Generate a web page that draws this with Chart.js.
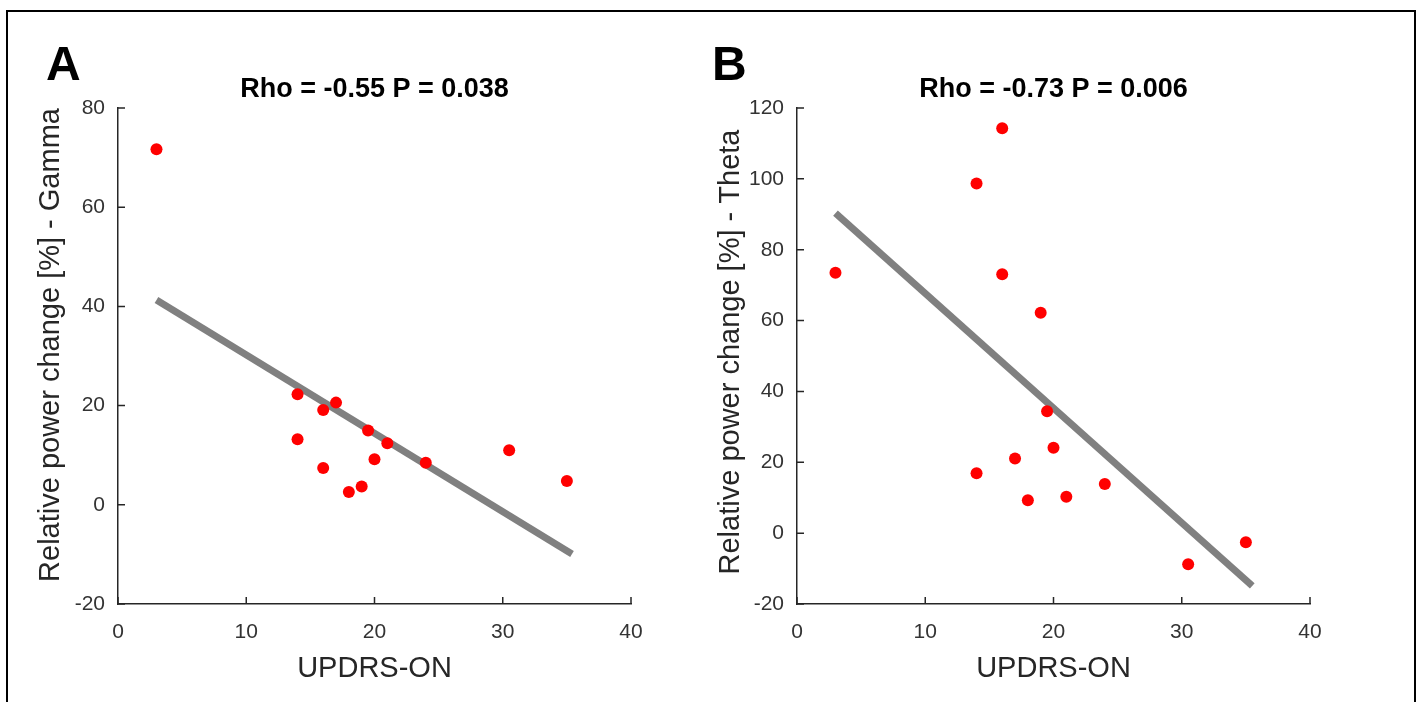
<!DOCTYPE html>
<html>
<head>
<meta charset="utf-8">
<script src="https://cdn.jsdelivr.net/npm/chart.js@4.4.1/dist/chart.umd.min.js"></script>
<style>
  html, body { margin: 0; padding: 0; background: #fff; }
  body { width: 1418px; height: 702px; position: relative; overflow: hidden; }
  #frame { position: absolute; left: 6px; top: 10px; width: 1410px; height: 730px; border: 2px solid #000; box-sizing: border-box; }
  .panel { position: absolute; top: 0; height: 702px; }
  #panelA { left: 0; width: 700px; }
  #panelB { left: 700px; width: 718px; }
</style>
</head>
<body>
<div id="frame"></div>
<div class="panel" id="panelA"><canvas id="chartA"></canvas></div>
<div class="panel" id="panelB"><canvas id="chartB"></canvas></div>
<script>
// 各パネルの値
const updrsA = [3, 14, 14, 16, 16, 17, 18, 19, 19.5, 20, 21, 24, 30.5, 35];
const gammaA = [71.7, 22.3, 13.2, 19.1, 7.4, 20.6, 2.6, 3.7, 15.0, 9.2, 12.4, 8.5, 11.0, 4.8];
const updrsB = [3, 14, 14, 16, 16, 17, 18, 19, 19.5, 20, 21, 24, 30.5, 35];
const thetaB = [73.5, 98.7, 16.9, 114.3, 73.1, 21.1, 9.3, 62.2, 34.4, 24.1, 10.3, 13.9, -8.8, -2.6];

// 回帰直線の両端
const fitXA = [3, 35.4];
const fitYA = [41.3, -9.9];
const fitXB = [3, 35.5];
const fitYB = [90.3, -14.9];

// 目盛り
const xTicks = [0, 10, 20, 30, 40];
const yTicksA = [-20, 0, 20, 40, 60, 80];
const yTicksB = [-20, 0, 20, 40, 60, 80, 100, 120];

const FONT = '"Liberation Sans", Arial, Helvetica, sans-serif';
const AXIS_COLOR = "#262626";
const TICK_TEXT = "#333333";

// MATLAB風の内向き目盛り
const inwardTicks = {
  id: "inwardTicks",
  beforeDatasetsDraw(chart) {
    const { ctx, chartArea } = chart;
    const x = chart.scales.x;
    const y = chart.scales.y;
    ctx.save();
    ctx.strokeStyle = AXIS_COLOR;
    ctx.lineWidth = 1.5;
    ctx.beginPath();
    x.ticks.forEach((t) => {
      const px = x.getPixelForValue(t.value);
      ctx.moveTo(px, chartArea.bottom);
      ctx.lineTo(px, chartArea.bottom - 7);
    });
    y.ticks.forEach((t) => {
      const py = y.getPixelForValue(t.value);
      ctx.moveTo(chartArea.left, py);
      ctx.lineTo(chartArea.left + 7, py);
    });
    ctx.stroke();
    ctx.restore();
  },
};

// タイトル・パネル記号・縦軸ラベル
const headings = {
  id: "headings",
  afterDraw(chart, args, opts) {
    const { ctx, chartArea } = chart;
    ctx.save();
    ctx.fillStyle = "#000";
    ctx.textBaseline = "alphabetic";
    ctx.font = "bold 27px " + FONT;
    ctx.textAlign = "center";
    ctx.fillText(opts.title, (chartArea.left + chartArea.right) / 2, 97);
    ctx.font = "bold 48px " + FONT;
    ctx.textAlign = "left";
    ctx.fillText(opts.letter, opts.letterX, 80);

    // 縦軸ラベル（回転）
    ctx.translate(opts.yLabelX, opts.yLabelY);
    ctx.rotate(-Math.PI / 2);
    ctx.fillStyle = AXIS_COLOR;
    ctx.font = "29px " + FONT;
    ctx.textAlign = "center";
    ctx.textBaseline = "middle";
    ctx.fillText(opts.yLabel, 0, 0);
    ctx.restore();
  },
};

function makePanel(id, xs, ys, fitX, fitY, yTicks, yMax, yLabel, title, letter, lay) {
  const ctx = document.getElementById(id).getContext("2d");
  return new Chart(ctx, {
    type: "scatter",
    data: {
      datasets: [
        {
          data: xs.map((v, i) => ({ x: v, y: ys[i] })),
          pointRadius: 6,
          pointBackgroundColor: "#ff0000",
          pointBorderWidth: 0,
          showLine: false,
        },
        {
          data: fitX.map((v, i) => ({ x: v, y: fitY[i] })),
          showLine: true,
          borderColor: "#808080",
          borderWidth: 7,
          borderCapStyle: "butt",
          pointRadius: 0,
        },
      ],
    },
    options: {
      responsive: true,
      maintainAspectRatio: false,
      animation: false,
      layout: { padding: { top: 108, right: lay.padRight, bottom: 0, left: 0 } },
      plugins: {
        legend: { display: false },
        tooltip: { enabled: false },
        headings: {
          title: title,
          letter: letter,
          letterX: lay.letterX,
          yLabel: yLabel,
          yLabelX: lay.yLabelX,
          yLabelY: lay.yLabelY,
        },
      },
      scales: {
        x: {
          type: "linear",
          min: 0,
          max: 40,
          afterBuildTicks: (s) => { s.ticks = xTicks.map((v) => ({ value: v })); },
          afterFit: (s) => { s.height = 98; s.paddingLeft = 0; s.paddingRight = 0; },
          grid: { display: true, drawOnChartArea: false, drawTicks: false },
          border: { display: true, color: AXIS_COLOR, width: 1.5 },
          ticks: { color: TICK_TEXT, padding: 16, font: { family: FONT, size: 21 } },
          title: {
            display: true,
            text: "UPDRS-ON",
            color: AXIS_COLOR,
            font: { family: FONT, size: 29 },
            padding: { top: 0, bottom: 16 },
          },
        },
        y: {
          type: "linear",
          min: -20,
          max: yMax,
          afterBuildTicks: (s) => { s.ticks = yTicks.map((v) => ({ value: v })); },
          afterFit: (s) => { s.width = lay.yWidth; s.paddingTop = 0; s.paddingBottom = 0; },
          grid: { display: true, drawOnChartArea: false, drawTicks: false },
          border: { display: true, color: AXIS_COLOR, width: 1.5 },
          ticks: { color: TICK_TEXT, padding: 13, font: { family: FONT, size: 21 } },
          title: { display: false },
        },
      },
    },
    plugins: [inwardTicks, headings],
  });
}

makePanel("chartA", updrsA, gammaA, fitXA, fitYA, yTicksA, 80,
  "Relative power change [%] - Gamma", "Rho = -0.55 P = 0.038", "A",
  { yWidth: 118, padRight: 69, letterX: 46, yLabelX: 51, yLabelY: 345 });

makePanel("chartB", updrsB, thetaB, fitXB, fitYB, yTicksB, 120,
  "Relative power change [%] - Theta", "Rho = -0.73 P = 0.006", "B",
  { yWidth: 97, padRight: 108, letterX: 12, yLabelX: 31, yLabelY: 352 });
</script>
</body>
</html>
